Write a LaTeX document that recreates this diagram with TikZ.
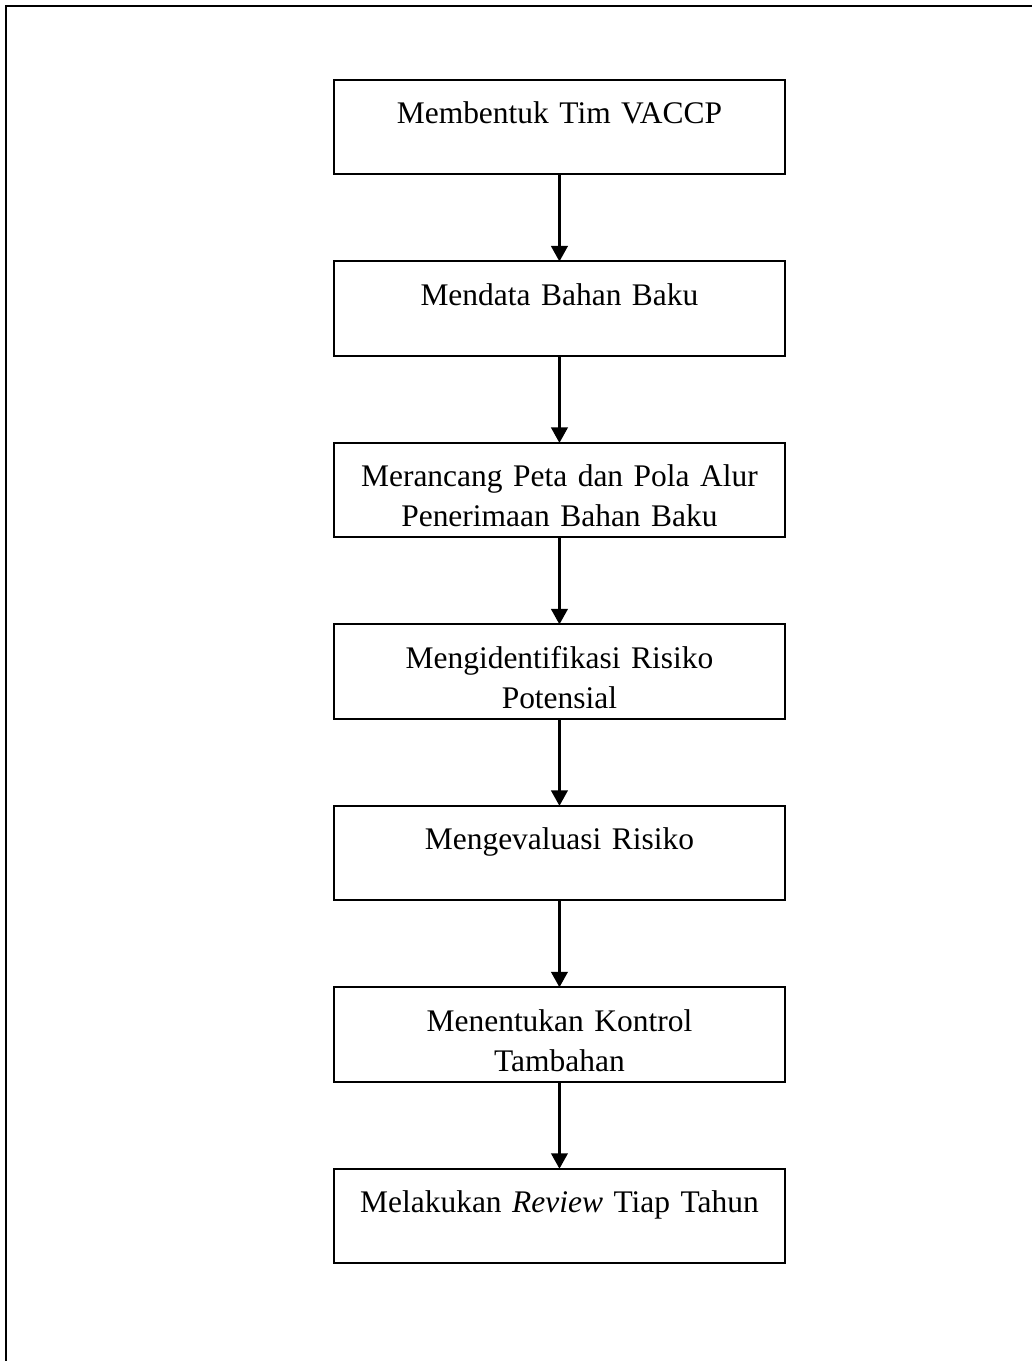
\documentclass[tikz,border=0pt]{standalone}
\usepackage{fontspec}
\setmainfont{Liberation Serif}
\usetikzlibrary{positioning,arrows.meta}
\begin{document}
\begin{tikzpicture}[x=1pt,y=1pt,
        kotak/.style={draw,line width=.75pt,rectangle,text width=169pt,inner xsep=0pt,inner ysep=0pt,outer sep=0pt,
            align=center,text height=16.4pt,text depth=19pt,font=\fontsize{11.8}{15}\selectfont},
        panah/.style={-{Triangle[width=6.2pt,length=5.8pt]},line width=.9pt},
        node distance=32.65pt]
        \useasboundingbox (0,0) rectangle (387,-510.4);
        \draw[line width=.75pt] (2.3,-510.4)--(2.3,-2.4)--(387,-2.4);
        \node[kotak,anchor=north] (tim) at (209.8,-30) {Membentuk Tim VACCP};
        \node[kotak,below=of tim] (data) {Mendata Bahan Baku};
        \node[kotak,below=of data] (peta) {Merancang Peta dan Pola Alur\\Penerimaan Bahan Baku};
        \node[kotak,below=of peta] (identifikasi) {Mengidentifikasi Risiko\\Potensial};
        \node[kotak,below=of identifikasi] (evaluasi) {Mengevaluasi Risiko};
        \node[kotak,below=of evaluasi] (kontrol) {Menentukan Kontrol\\Tambahan};
        \node[kotak,below=of kontrol] (review) {Melakukan \textit{Review} Tiap Tahun};
        \foreach \a/\b in {tim/data,data/peta,peta/identifikasi,identifikasi/evaluasi,evaluasi/kontrol,kontrol/review}
            \draw[panah](\a)--(\b);
    \end{tikzpicture}
\end{document}
